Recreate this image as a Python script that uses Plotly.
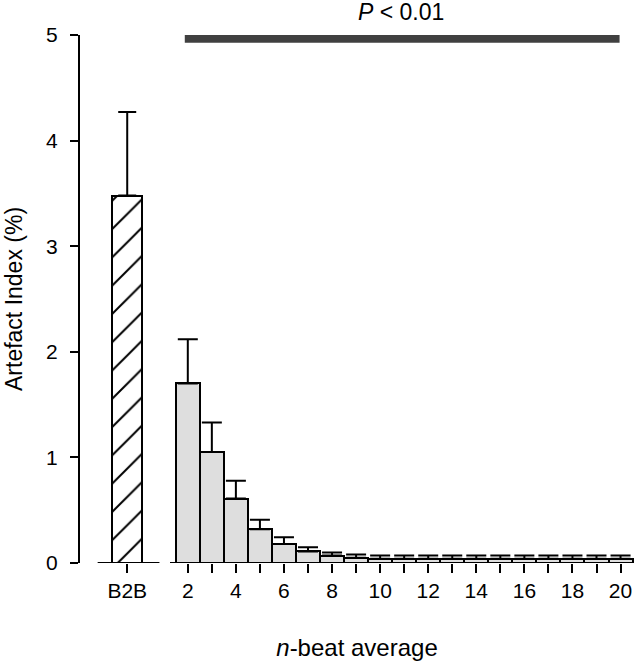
import plotly.graph_objects as go

# ---- data ----
b2b_label = "B2B"
b2b_mean = 3.48
b2b_upper = 4.27
n_beats = list(range(2, 21))
n_means = [1.70, 1.05, 0.61, 0.32, 0.18, 0.11, 0.07, 0.05, 0.04, 0.04, 0.04, 0.04,
           0.04, 0.04, 0.04, 0.04, 0.04, 0.04, 0.04]
n_upper = [2.12, 1.33, 0.78, 0.41, 0.245, 0.15, 0.10, 0.08, 0.07, 0.07, 0.07, 0.07,
           0.07, 0.07, 0.07, 0.07, 0.07, 0.07, 0.07]
y_ticks = [0, 1, 2, 3, 4, 5]
x_tick_labels = [str(n) if n % 2 == 0 else "" for n in n_beats]
sig_text = "<i>P</i> < 0.01"
sig_level = 4.964
sig_start, sig_end = 1.875, 19.96
y_title = "Artefact Index (%)"
x_title = "<i>n</i>-beat average"

B2B_X = -0.52
FONT = "Liberation Sans, Arial, sans-serif"

fig = go.Figure()

fig.add_trace(go.Bar(
    x=[B2B_X], y=[b2b_mean], width=1.25,
    marker=dict(color="white", line=dict(color="black", width=2),
                pattern=dict(shape="/", fgcolor="black", bgcolor="white", fgopacity=1,
                             size=20, solidity=0.1)),
    error_y=dict(type="data", symmetric=False, array=[b2b_upper - b2b_mean], arrayminus=[0],
                 color="black", thickness=2, width=9),
    showlegend=False, hoverinfo="skip",
))

fig.add_trace(go.Bar(
    x=n_beats, y=n_means, width=1.0,
    marker=dict(color="#dedede", line=dict(color="black", width=2)),
    error_y=dict(type="data", symmetric=False,
                 array=[u - m for u, m in zip(n_upper, n_means)],
                 arrayminus=[0] * len(n_means),
                 color="black", thickness=2, width=10),
    showlegend=False, hoverinfo="skip",
))

# broken x-axis baseline segments
fig.add_shape(type="line", xref="x", yref="y", x0=-1.75, x1=0.82, y0=0, y1=0,
              line=dict(color="black", width=2))
fig.add_shape(type="line", xref="x", yref="y", x0=1.26, x1=20.6, y0=0, y1=0,
              line=dict(color="black", width=2))

# significance bar
fig.add_shape(type="line", xref="x", yref="y", x0=sig_start, x1=sig_end,
              y0=sig_level, y1=sig_level, line=dict(color="#404040", width=8))
fig.add_annotation(x=10.87, y=1, xref="x", yref="paper", yanchor="middle",
                   yshift=23, text=sig_text, showarrow=False,
                   font=dict(family=FONT, size=23, color="black"))

# y-axis title
fig.add_annotation(x=0, xref="paper", xshift=-66, xanchor="center",
                   y=0.5, yref="paper", yanchor="middle", textangle=-90,
                   text=y_title, showarrow=False,
                   font=dict(family=FONT, size=23, color="black"))

fig.update_layout(
    width=634, height=661,
    margin=dict(l=80, r=0, t=35, b=98),
    plot_bgcolor="white", paper_bgcolor="white",
    font=dict(family=FONT, size=21, color="black"),
    bargap=0,
    xaxis=dict(
        range=[-2.484, 20.56], showgrid=False, zeroline=False, showline=False,
        automargin=False,
        tickmode="array", tickvals=[B2B_X] + n_beats, ticktext=[b2b_label] + x_tick_labels,
        ticks="outside", ticklen=9, tickwidth=2, tickcolor="black",
        tickfont=dict(size=21),
        title=dict(text=x_title, font=dict(size=24), standoff=37),
    ),
    yaxis=dict(
        range=[0, 5], showgrid=False, zeroline=False, showline=True, linecolor="black",
        linewidth=2, tickmode="array", tickvals=y_ticks, automargin=False,
        ticks="outside", ticklen=8, tickwidth=2, tickcolor="black",
        ticklabelstandoff=8,
        tickfont=dict(size=21),
    ),
)

# remove the default 8px page margin so the figure fills the window exactly
fig.write_html("out.html", config={"displayModeBar": False},
               post_script="document.body.style.margin='0';")
